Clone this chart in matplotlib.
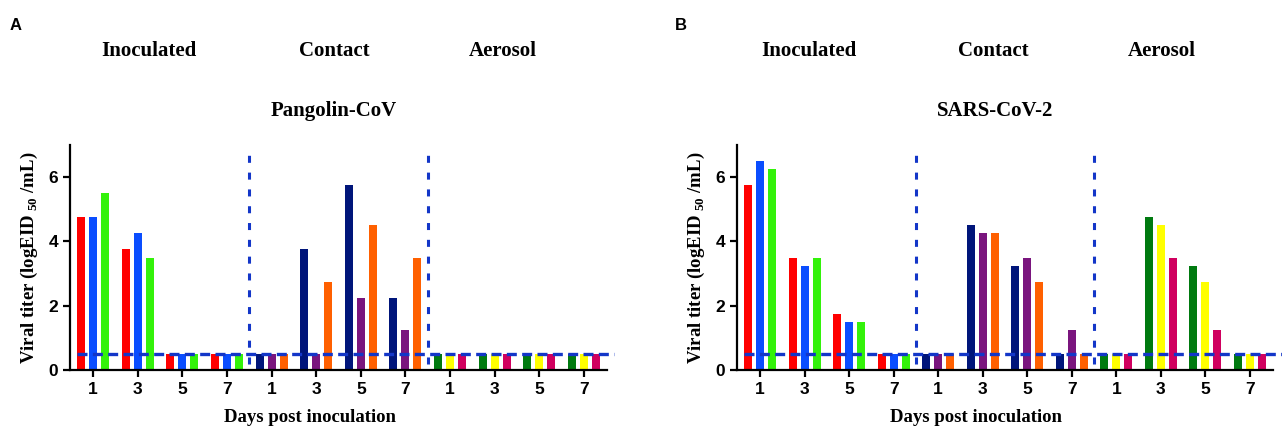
import numpy as np
import matplotlib
matplotlib.use('Agg')
import matplotlib.pyplot as plt

plt.rcParams['mathtext.fontset'] = 'custom'
plt.rcParams['mathtext.rm'] = 'Liberation Serif'
plt.rcParams['mathtext.bf'] = 'Liberation Serif:bold'

# Days and groups
days = ['1', '3', '5', '7']
groups = ['Inoculated', 'Contact', 'Aerosol']

# Three animals per group, values per day (logEID50/mL)
pango_inoc = [[4.75, 4.75, 5.5], [3.75, 4.25, 3.5], [0.5, 0.5, 0.5], [0.5, 0.5, 0.5]]
pango_contact = [[0.5, 0.5, 0.5], [3.75, 0.5, 2.75], [5.75, 2.25, 4.5], [2.25, 1.25, 3.5]]
pango_aerosol = [[0.5, 0.5, 0.5], [0.5, 0.5, 0.5], [0.5, 0.5, 0.5], [0.5, 0.5, 0.5]]

sars_inoc = [[5.75, 6.5, 6.25], [3.5, 3.25, 3.5], [1.75, 1.5, 1.5], [0.5, 0.5, 0.5]]
sars_contact = [[0.5, 0.5, 0.5], [4.5, 4.25, 4.25], [3.25, 3.5, 2.75], [0.5, 1.25, 0.5]]
sars_aerosol = [[0.5, 0.5, 0.5], [4.75, 4.5, 3.5], [3.25, 2.75, 1.25], [0.5, 0.5, 0.5]]

inoc_colors = ['#ff0000', '#0a4dff', '#33f20a']
contact_colors = ['#00157a', '#7a157e', '#ff6000']
aerosol_colors = ['#007a10', '#ffff00', '#d0005f']

detection_limit = 0.5
line_color = '#1336c8'

fig = plt.figure(figsize=(12.82, 4.3), dpi=100)

def panel(rect, data, title, title_x, header_xs, letter, letter_x, xlabel_x, hline_end):
    ax = fig.add_axes(rect)
    pos = 0
    for vals, cols in zip(data, [inoc_colors, contact_colors, aerosol_colors]):
        for day_vals in vals:
            for k, v in enumerate(day_vals):
                ax.bar(pos + (k - 1) * 0.27, v, width=0.18, color=cols[k],
                       edgecolor='none')
            pos += 1
    ax.set_xlim(-0.52, 11.52)
    ax.set_ylim(0, 7)
    ax.set_xticks(np.arange(12))
    ax.set_xticklabels(days * 3)
    ax.set_yticks([0, 2, 4, 6])
    for lab in ax.get_xticklabels() + ax.get_yticklabels():
        lab.set_fontweight('bold')
        lab.set_fontfamily('Liberation Sans')
        lab.set_fontsize(12.5)
    ax.spines['top'].set_visible(False)
    ax.spines['right'].set_visible(False)
    ax.spines['left'].set_linewidth(1.6)
    ax.spines['bottom'].set_linewidth(1.6)
    ax.tick_params(width=1.6, length=5)
    # detection limit and group dividers
    ax.plot([-0.36, hline_end], [detection_limit] * 2, color=line_color, lw=2.4,
            linestyle=(0, (3.0, 1.6)), clip_on=False, zorder=5)
    for xv in [3.5, 7.5]:
        ax.plot([xv, xv], [0.2, 6.8], color=line_color, lw=2.2,
                linestyle=(0, (2.3, 3.2)), zorder=5)
    ax.set_ylabel(r'Viral titer (logEID$_{\ \mathregular{50}}$ /mL)',
                  family='Liberation Serif', fontweight='bold', fontsize=13.5,
                  labelpad=6)
    for name, hx in zip(groups, header_xs):
        fig.text(hx / 1282, 1 - 51 / 430, name, ha='center', va='center',
                 family='Liberation Serif', fontweight='bold', fontsize=15)
    fig.text(title_x / 1282, 1 - 111 / 430, title, ha='center', va='center',
             family='Liberation Serif', fontweight='bold', fontsize=15)
    fig.text(letter_x / 1282, 1 - 25 / 430, letter, ha='left', va='center',
             family='Liberation Sans', fontweight='bold', fontsize=12)
    fig.text(xlabel_x / 1282, 1 - 418 / 430, 'Days post inoculation', ha='center',
             va='center', family='Liberation Serif', fontweight='bold', fontsize=13.5)
    return ax

panel([70 / 1282, 60 / 430, 537 / 1282, 225 / 430],
      [pango_inoc, pango_contact, pango_aerosol], 'Pangolin-CoV', 334,
      [149, 334, 503], 'A', 10, 310, 11.68)
panel([737 / 1282, 60 / 430, 536 / 1282, 225 / 430],
      [sars_inoc, sars_contact, sars_aerosol], 'SARS-CoV-2', 995,
      [809, 993, 1162], 'B', 675, 976, 11.75)

fig.savefig('out.png', dpi=100)
